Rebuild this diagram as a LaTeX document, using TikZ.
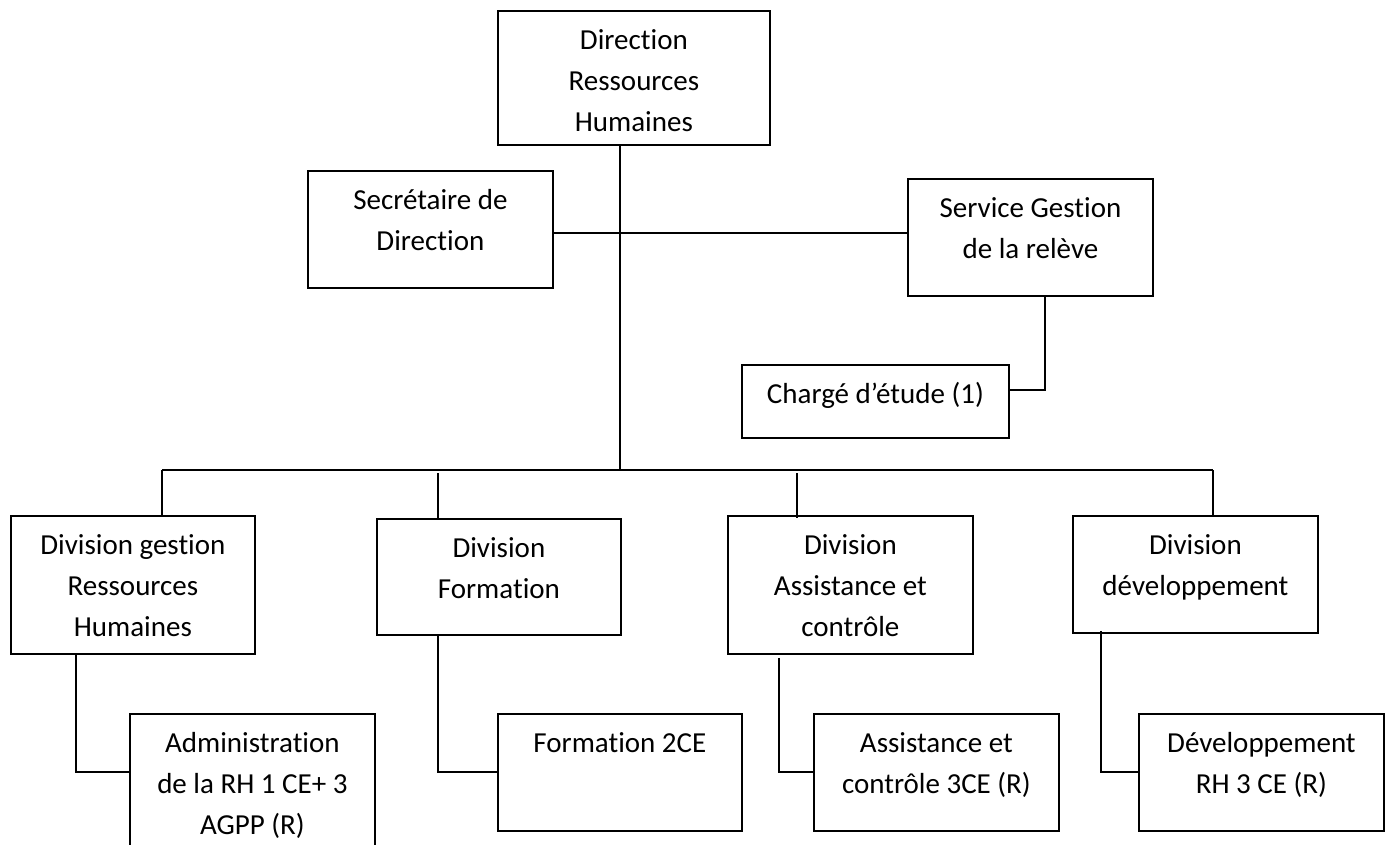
\documentclass[tikz,border=0pt]{standalone}
\usepackage{fontspec}
\setmainfont{Carlito}[Ligatures={NoCommon}]
\usetikzlibrary{calc}
\tikzset{
  box/.style={draw=black, line width=1.8pt, inner sep=0pt, anchor=north west, font=\fontsize{29}{41}\selectfont},
  link/.style={draw=black, line width=1.8pt}
}
\newcommand\obox[6]{\node[box] (#1) at (#2,#3) {\parbox[t][#6pt][t]{#5pt}{\centering\rule{0pt}{39pt}#4}};}
\begin{document}
\begin{tikzpicture}[x=1pt,y=-1pt]
\useasboundingbox (0,0) rectangle (1389,845);
\clip (0,0) rectangle (1389,845);
\fill[white] (0,0) rectangle (1389,845);
% boxes
\obox{dir}{497}{10}{Direction\\Ressources\\Humaines}{272}{134}
\obox{sec}{307}{170}{Secrétaire de\\Direction}{245}{117}
\obox{svc}{907}{178}{Service Gestion\\de la relève}{245}{117}
\obox{cha}{741}{364}{Chargé d’étude (1)}{267}{73}
\obox{d1}{10}{515}{Division gestion\\Ressources\\Humaines}{244}{138}
\obox{d2}{376}{518}{Division\\Formation}{244}{116}
\obox{d3}{727}{515}{Division\\Assistance et\\contrôle}{245}{138}
\obox{d4}{1072}{515}{Division\\développement}{245}{117}
\obox{s1}{129}{713}{Administration\\de la RH 1 CE+ 3\\AGPP (R)}{245}{160}
\obox{s2}{497}{713}{Formation 2CE}{244}{117}
\obox{s3}{813}{713}{Assistance et\\contrôle 3CE (R)}{245}{117}
\obox{s4}{1138}{713}{Développement\\RH 3 CE (R)}{245}{117}
% junction coordinates
\coordinate (j1) at (620,233);
\coordinate (bus) at (620,470);
\coordinate (c1) at (1045,390);
\coordinate (b1) at (162,470);
\coordinate (b2) at (438,473);
\coordinate (b3) at (797,473);
\coordinate (b4) at (1213,470);
\coordinate (k1) at (76,772);
\coordinate (k2) at (438,772);
\coordinate (k3) at (779,772);
\coordinate (k4) at (1101,772);
% connectors
\draw[link] (dir.south -| bus) -- (bus);
\draw[link] (sec.east |- j1) -- (svc.west |- j1);
\draw[link] (svc.south -| c1) -- (c1) -- (cha.east |- c1);
\draw[link] (b1 |- bus) -- (b4 |- bus);
\draw[link] (b1) -- (b1 |- d1.north);
\draw[link] (b2) -- (b2 |- d2.north);
\draw[link] (b3) -- ($(b3 |- d3.north)+(0,3)$);
\draw[link] (b4) -- (b4 |- d4.north);
\draw[link] (d1.south -| k1) -- (k1) -- (s1.west |- k1);
\draw[link] (d2.south -| k2) -- (k2) -- (s2.west |- k2);
\draw[link] ($(d3.south -| k3)+(0,3)$) -- (k3) -- (s3.west |- k3);
\draw[link] ($(d4.south -| k4)+(0,-3)$) -- (k4) -- (s4.west |- k4);
\end{tikzpicture}
\end{document}
